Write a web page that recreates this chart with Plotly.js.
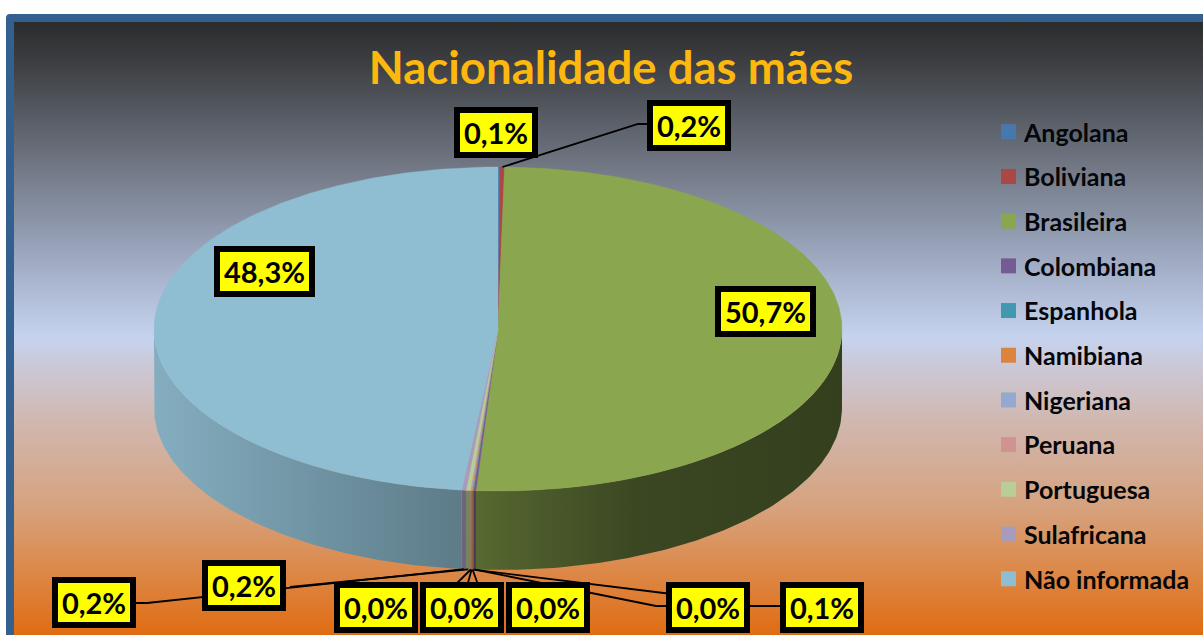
<!DOCTYPE html>
<html>
<head>
<meta charset="utf-8">
<script src="https://cdn.plot.ly/plotly-3.0.1.min.js"></script>
<style>
html,body{margin:0;padding:0;background:#fff;width:1203px;height:635px;overflow:hidden}
#frame{position:absolute;left:6px;top:14px;width:1220px;height:640px;box-sizing:border-box;border:8px solid #34608f;border-radius:4px;
background:linear-gradient(to bottom,#2b2c2c 0px,#3c3e41 40px,#555a62 90px,#747a87 150px,#9ba6bd 230px,#c6d3ef 315px,#cbc8d6 345px,#d1b6ac 405px,#d6a27e 485px,#dc8a4c 545px,#e06c12 613px)}
#chart{position:absolute;left:0;top:0;width:1203px;height:635px}
.legendpoints{transform:translateX(4.5px)}
</style>
</head>
<body>
<div id="frame"></div>
<div id="chart"></div>
<script>
const categories = ['Angolana','Boliviana','Brasileira','Colombiana','Espanhola','Namibiana','Nigeriana','Peruana','Portuguesa','Sulafricana','Não informada'];
const percentages = [0.1,0.2,50.7,0.1,0.04,0.04,0.04,0.04,0.2,0.2,48.3];
const sliceColors = ['#4678ae','#ab4744','#8aa64e','#745b94','#4298ae','#db843d','#93a9cf','#d19392','#b9cd96','#a99bbd','#8fbdd1'];

// Pixel layout of the pie and its labels (axes below map 1:1 onto the page)
const cx = 498, cy = 329, rx = 344, ry = 162, depth = 79;
const labelBoxes = [ // centre x, centre y of each label box
  [495.5,132.5],[688.5,125],[765,311],[822,607.5],[708,607.5],[548,607.5],[461.5,607.5],[376,607.5],[244,585],[94,602.5],[264.5,271]
];
const leaderBends = { // waypoints of the leader line after it leaves the pie
  1:[[638,124],[650,124]],
  3:[[656,606],[765,606],[785,606]],
  4:[[680,595]],
  5:[[480,590]],
  6:[[466,590]],
  7:[[450,590]],
  8:[[290,587]],
  9:[[202,597],[147,603],[130,603]]
};
const shadeStops = [[0,.92],[.45,.65],[.52,.58],[.7,.43],[1,.38]];

const total = percentages.reduce((a,b)=>a+b,0);
let acc = 0;
const spans = percentages.map(v=>{const s=[acc/total*2*Math.PI,(acc+v)/total*2*Math.PI];acc+=v;return s;});
const px = (a,d)=>[cx+rx*Math.sin(a), cy-ry*Math.cos(a)+(d||0)];
function arc(a0,a1,d){const n=Math.max(2,Math.ceil((a1-a0)/(Math.PI/180)));const o=[];for(let i=0;i<=n;i++)o.push(px(a0+(a1-a0)*i/n,d));return o;}
function hex(c){return [1,3,5].map(i=>parseInt(c.substr(i,2),16));}
function dark(c,f){const h=hex(c);return 'rgb('+h.map(v=>Math.round(v*f)).join(',')+')';}
const traces = [];

// side walls
spans.forEach((s,i)=>{
  const a0=Math.max(s[0],Math.PI/2), a1=Math.min(s[1],Math.PI*1.5);
  if(a1<=a0) return;
  const pts=arc(a0,a1,0).concat(arc(a0,a1,depth).reverse());
  pts.push(pts[0]);
  traces.push({type:'scatter',mode:'lines',x:pts.map(p=>p[0]),y:pts.map(p=>p[1]),fill:'toself',
    line:{width:0,color:dark(sliceColors[i],.6)},showlegend:false,hoverinfo:'skip',legendgroup:categories[i],
    fillcolor:dark(sliceColors[i],.6),
    fillgradient:{type:'horizontal',start:cx-rx,stop:cx+rx,colorscale:shadeStops.map(t=>[t[0],dark(sliceColors[i],t[1])])}});
});
// top faces
spans.forEach((s,i)=>{
  const pts=[[cx,cy]].concat(arc(s[0],s[1],0));pts.push([cx,cy]);
  traces.push({type:'scatter',mode:'lines',x:pts.map(p=>p[0]),y:pts.map(p=>p[1]),fill:'toself',fillcolor:sliceColors[i],
    line:{width:.4,color:sliceColors[i]},showlegend:false,hoverinfo:'skip',legendgroup:categories[i]});
});
// leader lines
Object.keys(leaderBends).forEach(k=>{
  const i=+k, mid=(spans[i][0]+spans[i][1])/2;
  const onWall=mid>Math.PI/2&&mid<Math.PI*1.5;
  const pts=[px(mid,onWall?depth:0)].concat(leaderBends[k]);
  traces.push({type:'scatter',mode:'lines',x:pts.map(p=>p[0]),y:pts.map(p=>p[1]),line:{color:'#000',width:1.8},showlegend:false,hoverinfo:'skip'});
});
// legend entries
categories.forEach((c,i)=>{
  traces.push({type:'scatter',mode:'markers',x:[null],y:[null],name:c,legendgroup:c,showlegend:true,
    marker:{symbol:'square',size:15,color:sliceColors[i]},hoverinfo:'skip'});
});

const fmt=v=>v.toFixed(1).replace('.',',')+'%';
const annotations = percentages.map((v,i)=>({
  xref:'x',yref:'y',x:labelBoxes[i][0],y:labelBoxes[i][1],text:fmt(v),showarrow:false,
  xanchor:'center',yanchor:'middle',align:'center',valign:'middle',
  width:[2,10].includes(i)?87:70,height:37,
  bgcolor:'#ffff00',bordercolor:'#000',borderwidth:6,borderpad:1,
  font:{family:'Lato, Carlito, sans-serif',size:29,weight:700,color:'#000'}
}));

const layout = {
  width:1203,height:635,margin:{l:0,r:0,t:0,b:0,pad:0},
  paper_bgcolor:'rgba(0,0,0,0)',plot_bgcolor:'rgba(0,0,0,0)',
  title:{text:'Nacionalidade das mães',x:611/1203,xanchor:'center',y:1-68/635,yref:'container',yanchor:'middle',
    font:{family:'Lato, Carlito, sans-serif',size:45.5,weight:700,color:'#fdb80f'}},
  xaxis:{range:[0,1203],visible:false,fixedrange:true},
  yaxis:{range:[635,0],visible:false,fixedrange:true},
  showlegend:true,
  legend:{x:984/1203,xanchor:'left',y:1-109/635,yanchor:'top',traceorder:'grouped',tracegroupgap:9.2,
    bgcolor:'rgba(0,0,0,0)',borderwidth:0,itemwidth:30,itemclick:false,itemdoubleclick:false,
    font:{family:'Lato, Carlito, sans-serif',size:25,weight:700,color:'#05070a'}},
  annotations:annotations,hovermode:false
};
Plotly.newPlot('chart',traces,layout,{displayModeBar:false,responsive:false});
</script>
</body>
</html>
